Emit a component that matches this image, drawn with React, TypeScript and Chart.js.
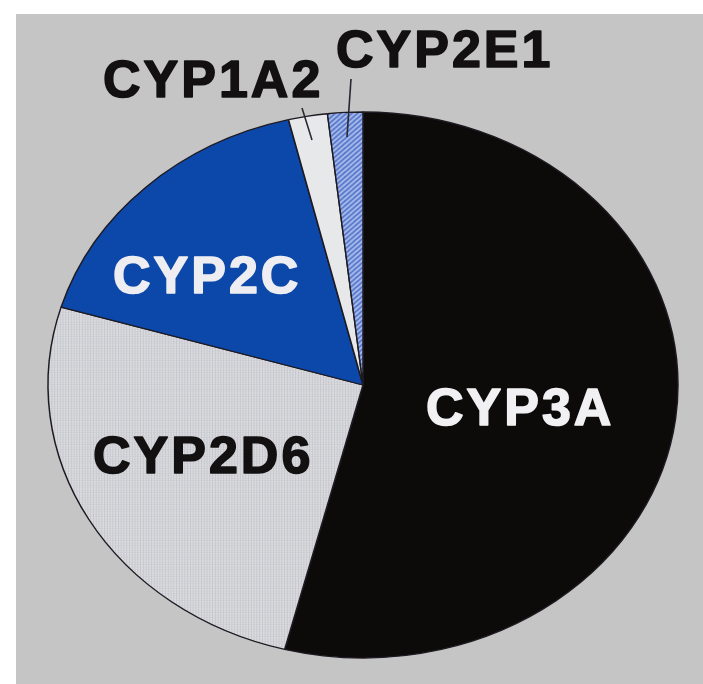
import React, { useEffect, useRef } from "react";
import { Chart, registerables } from "chart.js";

Chart.register(...registerables);

// ---- data ----
const categories = ["CYP3A", "CYP2D6", "CYP2C", "CYP1A2", "CYP2E1"];
const shares = [54, 25.6, 16.6, 2.0, 1.8];
const sliceColors = ["#0d0a0a", "#d9d9dd", "#0c48aa", "#e7e8ea", "#8ea8e2"];
const labelColors = ["#f1f1f3", "#121010", "#eeeef2", "#121010", "#121010"];

// ---- layout (relative to the pie centre) ----
const PAGE_W = 703;
const PAGE_H = 684;
const CENTER_X = 363;
const CENTER_Y = 385;
const RADIUS_X = 315;
const RADIUS_Y = 273;
// label left edge / baseline offsets from the centre
const labelOffsets: [number, number][] = [
  [62, 40],
  [-271, 88],
  [-251, -92],
  [-261, -288],
  [-28, -318],
];
// leader lines (start / end offsets from centre), only for small slices
const leaderLines: [number, number, number, number][] = [
  [-61, -277, -51, -245],
  [-12, -306, -16, -248],
];

function makeDotPattern(): CanvasPattern | string {
  const t = document.createElement("canvas");
  t.width = 3;
  t.height = 3;
  const c = t.getContext("2d");
  if (!c) return sliceColors[1];
  c.fillStyle = "#dcdce0";
  c.fillRect(0, 0, 3, 3);
  c.fillStyle = "#c6c8ce";
  c.fillRect(2, 0, 1, 3);
  c.fillStyle = "#cfd0d5";
  c.fillRect(0, 2, 2, 1);
  return c.createPattern(t, "repeat") || sliceColors[1];
}

function makeHatchPattern(): CanvasPattern | string {
  const t = document.createElement("canvas");
  t.width = 6;
  t.height = 6;
  const c = t.getContext("2d");
  if (!c) return sliceColors[4];
  c.fillStyle = "#a9bdea";
  c.fillRect(0, 0, 6, 6);
  c.strokeStyle = "#5676cc";
  c.lineWidth = 2;
  c.beginPath();
  c.moveTo(-1, 7);
  c.lineTo(7, -1);
  c.moveTo(-4, 4);
  c.lineTo(4, -4);
  c.moveTo(2, 10);
  c.lineTo(10, 2);
  c.stroke();
  return c.createPattern(t, "repeat") || sliceColors[4];
}

const ellipsePlugin = {
  id: "ellipsePie",
  beforeDraw(chart: any) {
    const ctx = chart.ctx;
    ctx.save();
    ctx.fillStyle = "#ffffff";
    ctx.fillRect(0, 0, chart.width, chart.height);
    ctx.fillStyle = "#c5c5c5";
    ctx.fillRect(16, 14, chart.width - 16, chart.height - 14);
    ctx.restore();
  },
  beforeDatasetsDraw(chart: any) {
    const meta = chart.getDatasetMeta(0);
    const a = meta.data[0];
    if (!a) return;
    const ctx = chart.ctx;
    const R = a.outerRadius;
    ctx.save();
    ctx.translate(CENTER_X, CENTER_Y);
    ctx.scale(RADIUS_X / R, RADIUS_Y / R);
    ctx.translate(-a.x, -a.y);
  },
  afterDatasetsDraw(chart: any) {
    const ctx = chart.ctx;
    ctx.restore();
    // leader lines
    ctx.save();
    ctx.strokeStyle = "#2a2630";
    ctx.lineWidth = 1.6;
    leaderLines.forEach(([x1, y1, x2, y2]) => {
      ctx.beginPath();
      ctx.moveTo(CENTER_X + x1, CENTER_Y + y1);
      ctx.lineTo(CENTER_X + x2, CENTER_Y + y2);
      ctx.stroke();
    });
    // labels
    ctx.font = "bold 52px 'Liberation Sans', Arial, sans-serif";
    ctx.textAlign = "left";
    ctx.textBaseline = "alphabetic";
    ctx.lineJoin = "round";
    ctx.lineWidth = 1.6;
    try {
      (ctx as any).letterSpacing = "3px";
    } catch (e) {}
    categories.forEach((name, i) => {
      const [dx, dy] = labelOffsets[i];
      ctx.fillStyle = labelColors[i];
      ctx.strokeStyle = labelColors[i];
      ctx.fillText(name, CENTER_X + dx + 1, CENTER_Y + dy);
      ctx.strokeText(name, CENTER_X + dx + 1, CENTER_Y + dy);
    });
    ctx.restore();
  },
};

export default function App() {
  const canvasRef = useRef<HTMLCanvasElement | null>(null);

  useEffect(() => {
    const canvas = canvasRef.current;
    if (!canvas) return;
    const colors: any[] = [
      sliceColors[0],
      makeDotPattern(),
      sliceColors[2],
      sliceColors[3],
      makeHatchPattern(),
    ];
    const chart = new Chart(canvas, {
      type: "pie",
      data: {
        labels: categories,
        datasets: [
          {
            data: shares,
            backgroundColor: colors,
            borderColor: "#1e1a22",
            borderWidth: 1.6,
          },
        ],
      },
      options: {
        responsive: false,
        animation: false,
        events: [],
        plugins: {
          legend: { display: false },
          tooltip: { enabled: false },
        },
      },
      plugins: [ellipsePlugin],
    });
    return () => chart.destroy();
  }, []);

  return (
    <div
      style={{
        position: "absolute",
        left: 0,
        top: 0,
        width: PAGE_W,
        height: PAGE_H,
        background: "#ffffff",
      }}
    >
      <canvas
        ref={canvasRef}
        width={PAGE_W}
        height={PAGE_H}
        style={{ display: "block", width: PAGE_W, height: PAGE_H }}
      />
    </div>
  );
}
